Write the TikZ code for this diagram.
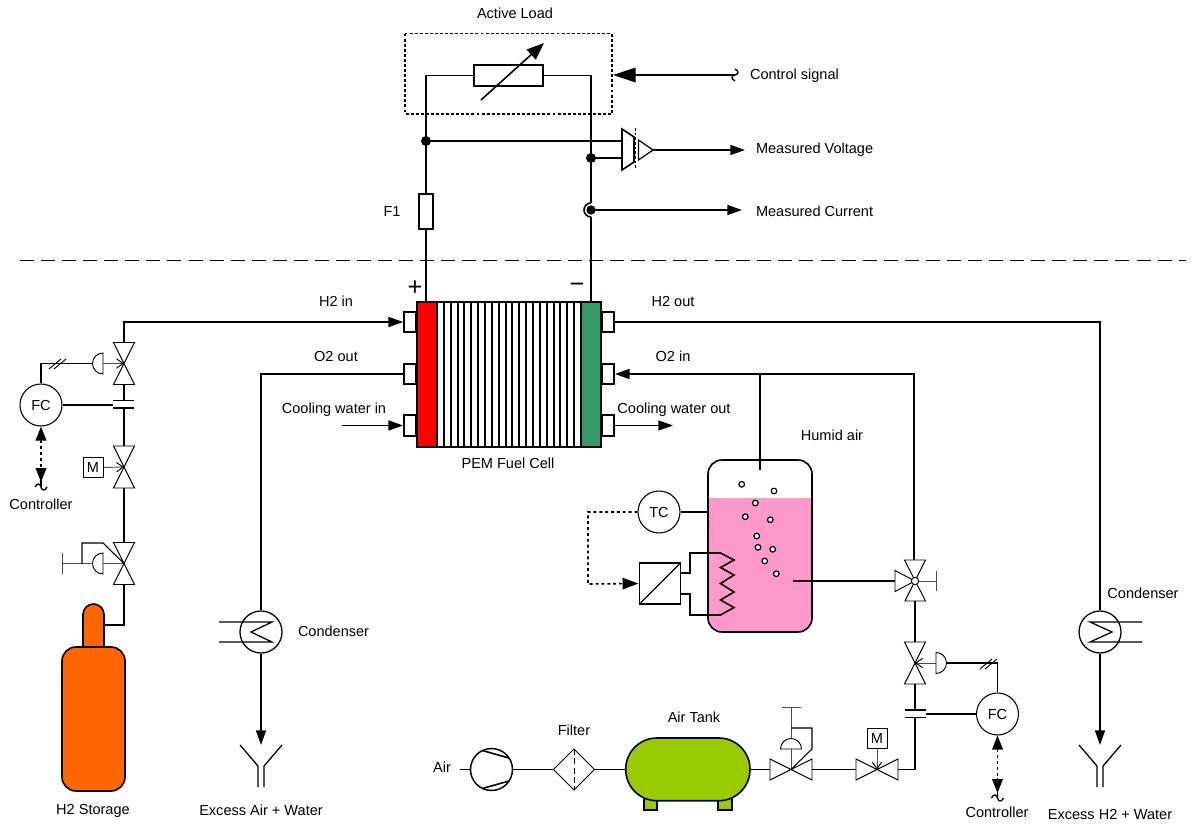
\documentclass[tikz,border=0pt]{standalone}
\usepackage{fontspec}
\setmainfont{Liberation Sans}
\usepackage{xcolor}
\definecolor{cellRed}{HTML}{FF0000}
\definecolor{cellGreen}{HTML}{339966}
\definecolor{liquidPink}{HTML}{FF99CC}
\definecolor{bottleOrange}{HTML}{FF6600}
\definecolor{tankGreen}{HTML}{99CC00}
\usetikzlibrary{arrows.meta}
\usetikzlibrary{positioning}
\tikzset{
    pipe/.style={draw=black,line width=1.2pt},
    thinline/.style={draw=black,line width=0.7pt},
    flow/.style={pipe,-{Triangle[length=11pt,width=7.5pt]}},
    bigflow/.style={pipe,-{Triangle[length=17pt,width=11pt]}},
    signal/.style={line width=1.2pt,dash pattern=on 2.2pt off 2.2pt},
    sigtips/.style={{Triangle[length=10.5pt,width=8pt]}-{Triangle[length=10.5pt,width=8pt]}},
    stem/.style={draw=black!70,line width=0.7pt},
    stemtip/.style={stem,-{Straight Barb[length=5pt,width=7pt,black]}},
    label/.style={font=\fontsize{10.9}{12.6}\selectfont,inner sep=0pt,outer sep=0pt},
    instr/.style={circle,draw=black,line width=0.8pt,minimum size=31.5pt,inner sep=0pt,
      font=\fontsize{10.9}{12.6}\selectfont},
    motorbox/.style={rectangle,draw=black,line width=0.7pt,minimum size=15pt,inner sep=0pt,
      font=\fontsize{10.9}{12.6}\selectfont},
    port/.style={draw=black,line width=1.4pt,fill=white,minimum width=9pt,minimum height=15.4pt,inner sep=0pt},
    dot/.style={circle,fill=black,inner sep=0pt,minimum size=7.5pt},
    bubble/.style={circle,draw=black,line width=0.9pt,fill=white,inner sep=0pt,minimum size=4.2pt},
    valve/.pic={
      \draw[thinline,fill=white] (-21,-10.5)--(21,10.5)--(21,-10.5)--(-21,10.5)--cycle;
      \coordinate (-a) at (-21,0);
      \coordinate (-b) at (21,0);
      \coordinate (-c) at (0,0);
    },
    diaphragm/.pic={
      \draw[thinline,fill=white] (0,-10.5) arc[start angle=-90,delta angle=-180,radius=10.5]
        -- cycle;
      \coordinate (-flat) at (0,0);
      \coordinate (-dome) at (-10.5,0);
    },
    squiggle/.pic={
      \draw[thinline,line width=1pt] (-6,0) .. controls (-4,-4) and (-1,-4) .. (0,0)
        .. controls (1,4) and (4,4) .. (6,0);
    },
    vent/.pic={
      \draw[pipe,line width=0.95pt] (-21,0) -- (-3,21) -- (-3,42);
      \draw[pipe,line width=0.95pt] (21,0) -- (3,21) -- (3,42);
    }
}

\begin{document}
\begin{tikzpicture}[x=0.75pt,y=-0.75pt]
  % Fixed frame, same size as the sheet
  \useasboundingbox (0,0) rectangle (1192,832);

  % Split between electrical and fluid side
  \draw[line width=1.4pt,dash pattern=on 10.5pt off 5.3pt] (20,260.5) -- (1186,260.5);

  % Fuel cell stack
  \def\stackT{302}
  \def\stackB{447}
  \fill[cellRed] (417,\stackT) rectangle (437,\stackB);
  \fill[cellGreen] (581,\stackT) rectangle (601,\stackB);
  \foreach \k in {1,...,20}{
    \draw[line width=1.5pt] ({437+\k*6.857},\stackT) -- ({437+\k*6.857},\stackB);
  }
  \draw[pipe,line width=1.4pt] (417,\stackT) rectangle (601,\stackB);
  \draw[pipe,line width=1.4pt] (437,\stackT) -- (437,\stackB);
  \draw[pipe,line width=1.4pt] (581,\stackT) -- (581,\stackB);

  % Ports, left and right of the stack
  \foreach \name/\y in {one/322,two/374,three/425.5}{
    \node[port,anchor=east] (portL\name) at (417,\y) {};
    \node[port,anchor=west] (portR\name) at (601,\y) {};
  }

  % Stack labels
  \node[label,font=\fontsize{19}{19}\selectfont] (plusL) at (415,288) {+};
  \node[label,font=\fontsize{19}{19}\selectfont] (minusL) at (577,288) {\textminus};
  \node[label] (h2inL) at (336,301) {H2 in};
  \node[label] (o2outL) at (336,356) {O2 out};
  \node[label] (cwinL) at (334,409.5) {Cooling water in};
  \node[label] (h2outL) at (673,301) {H2 out};
  \node[label] (o2inL) at (673,356) {O2 in};
  \node[label] (cwoutL) at (674,409.5) {Cooling water out};
  \node[label] (pemL) at (508,463) {PEM Fuel Cell};

  % Active load
  \node[label] (loadL) at (515,13) {Active Load};
  \draw[thinline,line width=1pt,dash pattern=on 2.2pt off 1.6pt] (405,33.5) rectangle (612,114);
  \node[draw=black,line width=1.2pt,minimum width=51.5pt,minimum height=15.7pt,inner sep=0pt]
    (rload) at (508.5,75.5) {};
  \coordinate (jtop) at (426,141);
  \coordinate (jvolt) at (591,158);
  \coordinate (jamp) at (591,210);
  \draw[pipe] (rload.west) -- (426,75.5) -- (jtop);
  \draw[pipe] (rload.east) -- (591,75.5) -- (jvolt);
  \draw[pipe,-{Triangle[length=13pt,width=10pt]}] (481,100) -- (544,43);
  \node[dot] (dtop) at (jtop) {};
  \node[dot] (dvolt) at (jvolt) {};

  % Fuse
  \node[draw=black,line width=1pt,minimum width=10.5pt,minimum height=26.2pt,inner sep=0pt]
    (fuse) at (426,211.5) {};
  \node[label] (fuseL) at (392,211) {F1};
  \draw[pipe] (jtop) -- (fuse.north);
  \draw[pipe] (fuse.south) -- (426,302);

  % Voltage amplifier
  \draw[pipe,fill=white] (622,129) -- (634,137) -- (634,162) -- (622,170) -- cycle;
  \draw[thinline,dash pattern=on 2pt off 1.5pt] (635.5,128) -- (635.5,169);
  \draw[thinline,line width=0.9pt] (638.5,140) -- (653,150) -- (638.5,160) -- cycle;
  \coordinate (ampIn) at (622,141);
  \coordinate (ampInB) at (622,158);
  \draw[pipe] (jtop) -- (ampIn);
  \draw[pipe] (jvolt) -- (ampInB);
  \node[label,anchor=west] (voltL) at (756,150) {Measured Voltage};
  \draw[flow] (653,150) -- (745,150);

  % Current sensor
  \draw[pipe] (jvolt) -- (591,203);
  \draw[pipe] (591,217) -- (591,302);
  \draw[pipe] (591,203) arc[start angle=-90,delta angle=-180,radius=7];
  \node[dot,minimum size=7pt] (damp) at (jamp) {};
  \node[label,anchor=west] (currL) at (756,211) {Measured Current};
  \draw[flow] (jamp) -- (742,210);

  % Control signal
  \node[label,anchor=west] (ctrlL) at (750,76) {Control signal};
  \coordinate (ctrlEnd) at (735,75);
  \pic[rotate=90] at (ctrlEnd) {squiggle};
  \draw[bigflow] (ctrlEnd) -- (613,75);

  % Hydrogen supply
  \pic[rotate=90] (vA) at (124,363.5) {valve};
  \pic[rotate=90] (vB) at (124,467) {valve};
  \pic[rotate=90] (vC) at (124,563.5) {valve};
  \draw[flow] (vA-b) -- (124,322) -- (portLone.west);
  \draw[pipe] (113,400.5) -- (134,400.5);
  \draw[pipe] (113,408) -- (134,408);
  \draw[pipe] (vA-a) -- (124,400.5);
  \draw[pipe] (124,408) -- (vB-b);
  \draw[pipe] (vB-a) -- (vC-b);
  \node[instr] (fcA) at (41,405) {FC};
  \draw[pipe] (fcA.east) -- (113,405);
  \pic (actA) at (103,363.5) {diaphragm};
  \draw[stemtip] (actA-flat) -- (vA-c);
  \draw[pipe] (actA-dome) -- (41,363.5) -- (fcA.north);
  \draw[thinline] (49,369) -- (61,359);
  \draw[thinline] (54,369) -- (66,359);
  \node[motorbox] (motA) at (93,467.5) {M};
  \draw[stemtip] (motA.east) -- (vB-c);
  % Manual regulator on the bottle
  \pic (actB) at (103,563.5) {diaphragm};
  \draw[stem] (62,553) -- (62,574);
  \draw[stem] (62,563.5) -- (92,563.5);
  \draw[stem] (actB-flat) -- (vC-c);
  \draw[pipe,line width=0.8pt] (82,563.5) -- (82,543) -- (103,543) -- (vC-c);
  \draw[signal,sigtips] (fcA.south) -- (41,482);
  \draw[pipe] (41,476) -- (41,487);
  \pic at (41,487) {squiggle};
  \node[label] (ctrlA) at (41,504) {Controller};

  % Hydrogen bottle
  \draw[pipe,fill=bottleOrange] (83,650) -- (83,614.5) arc[start angle=180,end angle=360,radius=10.5]
    -- (104,650) -- cycle;
  \draw[pipe,fill=bottleOrange,rounded corners=10.5pt] (62,647) rectangle (125,791);
  \draw[pipe] (vC-a) -- (124,625) -- (104,625);
  \node[label] (bottleL) at (93,811) {H2 Storage};

  % Cathode exhaust
  \node[circle,draw=black,line width=0.95pt,minimum size=31.5pt,inner sep=0pt] (condA) at (261,632) {};
  \draw[pipe] (portLtwo.west) -- (261,374) -- (condA.north);
  \draw[pipe,line width=0.95pt] (219,622) -- (272,622) -- (251,632) -- (272,642) -- (219,642);
  \node[label,anchor=west] (condAL) at (298,631) {Condenser};
  \draw[flow] (condA.south) -- (261,745);
  \pic at (261,745) {vent};
  \node[label] (ventAL) at (261,810) {Excess Air + Water};

  % Cooling water stubs
  \draw[flow] (342,425.5) -- (portLthree.west);
  \draw[flow] (portRthree.east) -- (673,425.5);

  % Anode exhaust
  \node[circle,draw=black,line width=0.95pt,minimum size=31.5pt,inner sep=0pt] (condB) at (1100,632) {};
  \draw[pipe] (portRone.east) -- (1100,322) -- (condB.north);
  \draw[pipe,line width=0.95pt] (1142,622) -- (1090,622) -- (1112,632) -- (1090,642) -- (1142,642);
  \node[label] (condBL) at (1143,593) {Condenser};
  \draw[flow] (condB.south) -- (1100,745);
  \pic at (1100,745) {vent};
  \node[label] (ventBL) at (1110,814) {Excess H2 + Water};

  % Humidifier vessel
  \begin{scope}
    \clip[rounded corners=10.5pt] (708,460) rectangle (812,632);
    \fill[liquidPink] (708,498) rectangle (812,632);
  \end{scope}
  \draw[pipe,rounded corners=10.5pt] (708,460) rectangle (812,632);
  \node[label] (humidL) at (832,435) {Humid air};
  \foreach \x/\y in {741.7/484.3,774/491,755.3/503,745.3/516.7,770.3/519.7,
                     756.7/536,758/547.3,772.7/549.3,764.7/561,776.3/573.7}{
    \node[bubble] at (\x,\y) {};
  }

  % Temperature loop
  \node[instr] (tc) at (659,512) {TC};
  \draw[pipe] (tc.east) -- (708,512);
  \node[draw=black,line width=1.2pt,minimum size=31pt,inner sep=0pt,
    path picture={\draw[line width=1pt] (path picture bounding box.south west)
      -- (path picture bounding box.north east);}] (conv) at (660,583.5) {};
  \draw[signal,-{Triangle[length=12pt,width=8.5pt]}] (tc.west) -- (588,512) -- (588,584) -- (conv.west);
  \draw[pipe] (681,573) -- (690,573) -- (690,553) -- (720.5,553)
    -- (734,560) -- (720.5,567.5) -- (734,575) -- (720.5,583.5) -- (734,592)
    -- (720.5,600) -- (734,607.5) -- (720.5,615) -- (690,615) -- (690,594) -- (681,594);

  % Oxygen side feed
  \coordinate (o2Tee) at (760,374);
  \draw[flow] (914,560) -- (914,374) -- (portRtwo.east);
  \draw[pipe] (o2Tee) -- (760,470);

  % Three way valve
  \coordinate (vDc) at (915,581);
  \draw[thinline,fill=white] (904.5,560) -- (925.5,560) -- (905,601) -- (925.5,601) -- cycle;
  \draw[thinline,fill=white] (895,570.5) -- (915,581) -- (895,591.5) -- cycle;
  \draw[pipe] (793,581) -- (895,581);
  \draw[stem] (915,581) -- (936.5,581);
  \draw[stem] (936.5,571) -- (936.5,591);
  \node[circle,draw=black,line width=0.7pt,fill=white,minimum size=5.5pt,inner sep=0pt] (vDhub) at (vDc) {};

  % Air flow control
  \pic[rotate=90] (vE) at (915,663) {valve};
  \draw[pipe] (915,601) -- (vE-b);
  \node[instr] (fcB) at (997.5,714) {FC};
  \pic[rotate=180] (actC) at (936,663) {diaphragm};
  \draw[stemtip] (actC-flat) -- (vE-c);
  \draw[pipe] (actC-dome) -- (997.5,663) -- (fcB.north);
  \draw[thinline] (980,669) -- (992,659);
  \draw[thinline] (985,669) -- (997,659);
  \draw[pipe] (905,710) -- (926,710);
  \draw[pipe] (905,717.5) -- (926,717.5);
  \draw[pipe] (fcB.west) -- (926,714);
  \draw[pipe] (vE-a) -- (915,710);
  \draw[signal,sigtips] (fcB.south) -- (997.5,793);
  \draw[pipe] (997.5,787) -- (997.5,798);
  \pic at (997.5,798) {squiggle};
  \node[label] (ctrlB) at (997,812) {Controller};

  % Air line valves
  \pic (vF) at (877,769.5) {valve};
  \pic (vG) at (791,769.5) {valve};
  \draw[pipe] (915,717.5) -- (915,769.5) -- (vF-b);
  \draw[pipe] (vF-a) -- (vG-b);
  \node[motorbox] (motB) at (877,738.5) {M};
  \draw[stemtip] (motB.south) -- (vF-c);
  \pic[rotate=-90] (actD) at (791,749) {diaphragm};
  \draw[stem] (791,707) -- (791,738);
  \draw[stem] (782,707) -- (801,707);
  \draw[stem] (actD-flat) -- (vG-c);
  \draw[pipe,line width=0.8pt] (791,728) -- (812,728) -- (812,749) -- (vG-c);

  % Air tank
  \draw[pipe,fill=tankGreen] (644,798) rectangle (657,810);
  \draw[pipe,fill=tankGreen] (718,798) rectangle (732,810);
  \draw[pipe,fill=tankGreen,rounded corners=23.4pt] (625.7,738) rectangle (750,800.7);
  \node[label] (tankL) at (694,717) {Air Tank};
  \coordinate (tankE) at (750,769.5);
  \coordinate (tankW) at (625.7,769.5);
  \draw[pipe] (tankE) -- (vG-a);

  % Filter
  \node[label] (filterL) at (574,730) {Filter};
  \draw[thinline,fill=white] (553.5,769.5) -- (574,749) -- (594.5,769.5) -- (574,790) -- cycle;
  \draw[thinline,dash pattern=on 4.5pt off 2.5pt] (574,749) -- (574,790);
  \draw[pipe] (594.5,769.5) -- (tankW);

  % Compressor
  \node[circle,draw=black,line width=1.1pt,minimum size=31.5pt,inner sep=0pt] (comp) at (491.5,769.5) {};
  \draw[pipe] (483,750.7) -- (509,758);
  \draw[pipe] (483,788.3) -- (509,781);
  \draw[pipe] (comp.east) -- (553.5,769.5);
  \draw[pipe] (460,769.5) -- (comp.west);
  \node[label] (airL) at (442,767) {Air};
\end{tikzpicture}
\end{document}
